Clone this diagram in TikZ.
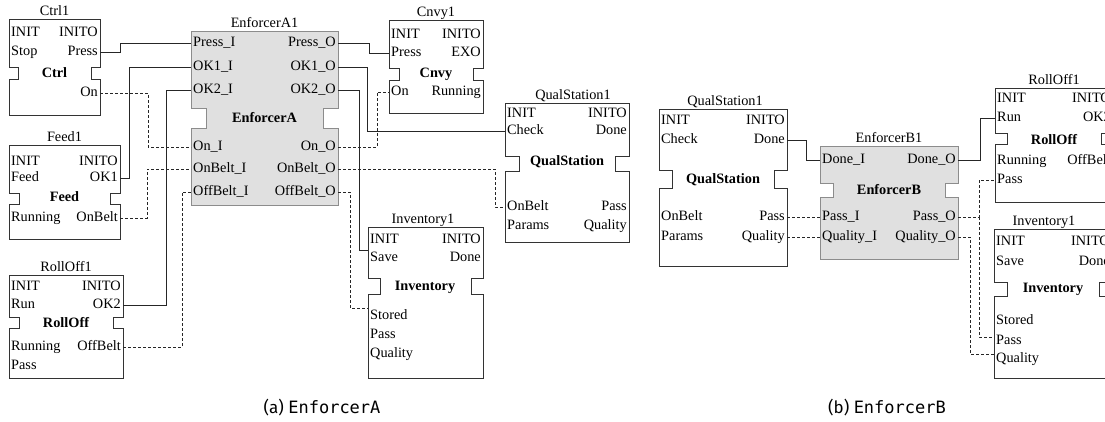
\documentclass[tikz,border=0pt]{standalone}
\usepackage{fontspec}
\setmainfont{Liberation Serif}
\newfontfamily\capsans{Fira Sans}
\newfontfamily\capmono{DejaVu Sans Mono}
\usetikzlibrary{calc}
\newcommand{\fblk}[8]{% style, L, T, R, B, NT, NB, d
  \draw[#1] (#2,#3) -- (#4,#3) -- (#4,#6) -- ({#4-#8},#6) -- ({#4-#8},#7) -- (#4,#7) -- (#4,#5)
    -- (#2,#5) -- (#2,#7) -- ({#2+#8},#7) -- ({#2+#8},#6) -- (#2,#6) -- cycle;}
\tikzset{
  blk/.style={draw=black!80, line width=0.8pt, fill=white},
  blkg/.style={draw=black!45, line width=0.8pt, fill=black!12},
  txt/.style={inner sep=2pt, text height=9pt, text depth=2.5pt, font=\fontsize{14.3}{16}\selectfont},
  inport/.style={txt, anchor=west},
  outport/.style={txt, anchor=east},
  ttl/.style={txt, anchor=south, inner sep=1pt},
  tname/.style={txt, font=\fontsize{14.3}{16}\selectfont\bfseries},
  wire/.style={draw=black!85, line width=0.8pt},
  dwire/.style={draw=black!85, line width=0.8pt, dash pattern=on 3pt off 2pt},
  capt/.style={inner sep=0pt, font=\fontsize{17}{19}\selectfont},
}
\begin{document}
\begin{tikzpicture}[x=1pt,y=-1pt]
\useasboundingbox (0,0) rectangle (1105,421);
\clip (0,0) rectangle (1105,421);

% ---------- Ctrl1
\fblk{blk}{9}{19}{100}{115}{67}{79}{9}
\node[ttl] (ctrlT) at (54.5,19) {Ctrl1};
\node[tname] (ctrlN) at (54.5,74) {Ctrl};
\node[inport] (ctrlInit) at (9,33) {INIT};
\node[outport] (ctrlInito) at (100,33) {INITO};
\node[inport] (ctrlStop) at (9,52) {Stop};
\node[outport] (ctrlPress) at (100,52) {Press};
\node[outport] (ctrlOn) at (100,93) {On};

% ---------- Feed1
\fblk{blk}{9}{145}{120}{239}{193}{204}{10}
\node[ttl] (feedT) at (64.5,145) {Feed1};
\node[tname] (feedN) at (64.5,198) {Feed};
\node[inport] (feedInit) at (9,162) {INIT};
\node[outport] (feedInito) at (120,162) {INITO};
\node[inport] (feedFeed) at (9,178) {Feed};
\node[outport] (feedOK) at (120,178) {OK1};
\node[inport] (feedRun) at (9,218) {Running};
\node[outport] (feedOnBelt) at (120,218) {OnBelt};

% ---------- RollOff1 (a)
\fblk{blk}{9}{275}{123}{378}{317}{328}{10}
\node[ttl] (roaT) at (66,275) {RollOff1};
\node[tname] (roaN) at (66,324) {RollOff};
\node[inport] (roaInit) at (9,287) {INIT};
\node[outport] (roaInito) at (123,287) {INITO};
\node[inport] (roaRun) at (9,305) {Run};
\node[outport] (roaOK) at (123,305) {OK2};
\node[inport] (roaRunning) at (9,347) {Running};
\node[outport] (roaOffBelt) at (123,347) {OffBelt};
\node[inport] (roaPass) at (9,366) {Pass};

% ---------- EnforcerA1
\fblk{blkg}{191}{31}{338}{205}{108}{128}{15}
\node[ttl] (enaT) at (264.5,31) {EnforcerA1};
\node[tname] (enaN) at (264.5,119) {EnforcerA};
\node[inport] (enaPressI) at (191,43) {Press\_I};
\node[outport] (enaPressO) at (338,43) {Press\_O};
\node[inport] (enaOKaI) at (191,67) {OK1\_I};
\node[outport] (enaOKaO) at (338,67) {OK1\_O};
\node[inport] (enaOKbI) at (191,90) {OK2\_I};
\node[outport] (enaOKbO) at (338,90) {OK2\_O};
\node[inport] (enaOnI) at (191,147) {On\_I};
\node[outport] (enaOnO) at (338,147) {On\_O};
\node[inport] (enaOnBeltI) at (191,169) {OnBelt\_I};
\node[outport] (enaOnBeltO) at (338,169) {OnBelt\_O};
\node[inport] (enaOffBeltI) at (191,192) {OffBelt\_I};
\node[outport] (enaOffBeltO) at (338,192) {OffBelt\_O};

% ---------- Cnvy1
\fblk{blk}{389}{20}{483}{113}{68}{80}{10}
\node[ttl] (cnvT) at (436,20) {Cnvy1};
\node[tname] (cnvN) at (436,74) {Cnvy};
\node[inport] (cnvInit) at (389,35) {INIT};
\node[outport] (cnvInito) at (483,35) {INITO};
\node[inport] (cnvPress) at (389,53) {Press};
\node[outport] (cnvExo) at (483,53) {EXO};
\node[inport] (cnvOn) at (389,92) {On};
\node[outport] (cnvRunning) at (483,92) {Running};

% ---------- QualStation1 (a)
\fblk{blk}{505}{103}{629}{242}{156}{171}{14}
\node[ttl] (qsaT) at (573,103) {QualStation1};
\node[tname] (qsaN) at (567,162) {QualStation};
\node[inport] (qsaInit) at (505,114) {INIT};
\node[outport] (qsaInito) at (629,114) {INITO};
\node[inport] (qsaCheck) at (505,131) {Check};
\node[outport] (qsaDone) at (629,131) {Done};
\node[inport] (qsaOnBelt) at (505,207) {OnBelt};
\node[outport] (qsaPass) at (629,207) {Pass};
\node[inport] (qsaParams) at (505,226) {Params};
\node[outport] (qsaQuality) at (629,226) {Quality};

% ---------- Inventory1 (a)
\fblk{blk}{368}{227}{483}{378}{278}{294}{12}
\node[ttl] (invaT) at (423,227) {Inventory1};
\node[tname] (invaN) at (425,287) {Inventory};
\node[inport] (invaInit) at (368,240) {INIT};
\node[outport] (invaInito) at (483,240) {INITO};
\node[inport] (invaSave) at (368,258) {Save};
\node[outport] (invaDone) at (483,258) {Done};
\node[inport] (invaStored) at (368,316) {Stored};
\node[inport] (invaPass) at (368,335) {Pass};
\node[inport] (invaQuality) at (368,354) {Quality};

% ---------- QualStation1 (b)
\fblk{blk}{659}{109}{787}{266}{170}{188}{13}
\node[ttl] (qsbT) at (725,109) {QualStation1};
\node[tname] (qsbN) at (723,180) {QualStation};
\node[inport] (qsbInit) at (659,121) {INIT};
\node[outport] (qsbInito) at (787,121) {INITO};
\node[inport] (qsbCheck) at (659,140) {Check};
\node[outport] (qsbDone) at (787,140) {Done};
\node[inport] (qsbOnBelt) at (659,217) {OnBelt};
\node[outport] (qsbPass) at (787,217) {Pass};
\node[inport] (qsbParams) at (659,237) {Params};
\node[outport] (qsbQuality) at (787,237) {Quality};

% ---------- EnforcerB1
\fblk{blkg}{820}{146}{958}{259}{183}{197}{13}
\node[ttl] (enbT) at (889,146) {EnforcerB1};
\node[tname] (enbN) at (889,191) {EnforcerB};
\node[inport] (enbDoneI) at (820,160) {Done\_I};
\node[outport] (enbDoneO) at (958,160) {Done\_O};
\node[inport] (enbPassI) at (820,217) {Pass\_I};
\node[outport] (enbPassO) at (958,217) {Pass\_O};
\node[inport] (enbQualI) at (820,237) {Quality\_I};
\node[outport] (enbQualO) at (958,237) {Quality\_O};

% ---------- RollOff1 (b)
\fblk{blk}{995}{88}{1113}{202}{133}{144}{12}
\node[ttl] (robT) at (1054,88) {RollOff1};
\node[tname] (robN) at (1054,141) {RollOff};
\node[inport] (robInit) at (995,99) {INIT};
\node[outport] (robInito) at (1113,99) {INITO};
\node[inport] (robRun) at (995,118) {Run};
\node[outport] (robOK) at (1113,118) {OK2};
\node[inport] (robRunning) at (995,161) {Running};
\node[outport] (robOffBelt) at (1113,161) {OffBelt};
\node[inport] (robPass) at (995,180) {Pass};

% ---------- Inventory1 (b)
\fblk{blk}{994}{229}{1112}{378}{282}{296}{13}
\node[ttl] (invbT) at (1044,229) {Inventory1};
\node[tname] (invbN) at (1053,289) {Inventory};
\node[inport] (invbInit) at (994,242) {INIT};
\node[outport] (invbInito) at (1112,242) {INITO};
\node[inport] (invbSave) at (994,262) {Save};
\node[outport] (invbDone) at (1112,262) {Done};
\node[inport] (invbStored) at (994,321) {Stored};
\node[inport] (invbPass) at (994,341) {Pass};
\node[inport] (invbQuality) at (994,359) {Quality};

% ---------- connectors (a)
\draw[wire] (ctrlPress.east) -- ++(20,0) |- (enaPressI.west);
\draw[wire] (feedOK.east) -- ++(9,0) |- (enaOKaI.west);
\draw[wire] (roaOK.east) -- ++(43,0) |- (enaOKbI.west);
\draw[dwire] (ctrlOn.east) -- ++(48,0) |- (enaOnI.west);
\draw[dwire] (feedOnBelt.east) -- ++(27,0) |- (enaOnBeltI.west);
\draw[dwire] (roaOffBelt.east) -- ++(59,0) |- (enaOffBeltI.west);
\draw[wire] (enaPressO.east) -- ++(31,0) |- (cnvPress.west);
\draw[wire] (enaOKaO.east) -- ++(29,0) |- (qsaCheck.west);
\draw[wire] (enaOKbO.east) -- ++(21,0) |- ($(invaSave.west)+(0,-8)$);
\draw[dwire] (enaOnO.east) -- ++(39,0) |- (cnvOn.west);
\draw[dwire] (enaOnBeltO.east) -- ++(157,0) |- (qsaOnBelt.west);
\draw[dwire] (enaOffBeltO.east) -- ++(12,0) |- ($(invaStored.west)+(0,-8)$);

% ---------- connectors (b)
\draw[wire] (qsbDone.east) -- ++(19,0) |- (enbDoneI.west);
\draw[dwire] (qsbPass.east) -- (enbPassI.west);
\draw[dwire] (qsbQuality.east) -- (enbQualI.west);
\draw[wire] (enbDoneO.east) -- ++(22,0) |- (robRun.west);
\draw[dwire] (enbPassO.east) -- ++(21,0) coordinate (jp) |- (robPass.west);
\draw[dwire] (jp) |- ($(invbPass.west)+(0,-4)$);
\draw[dwire] (enbQualO.east) -- ++(12,0) |- ($(invbQuality.west)+(0,-5)$);

% ---------- captions
\node[capt] (capA) at (322,408) {\capsans (a) \capmono EnforcerA};
\node[capt] (capB) at (887,408) {\capsans (b) \capmono EnforcerB};
\end{tikzpicture}
\end{document}
